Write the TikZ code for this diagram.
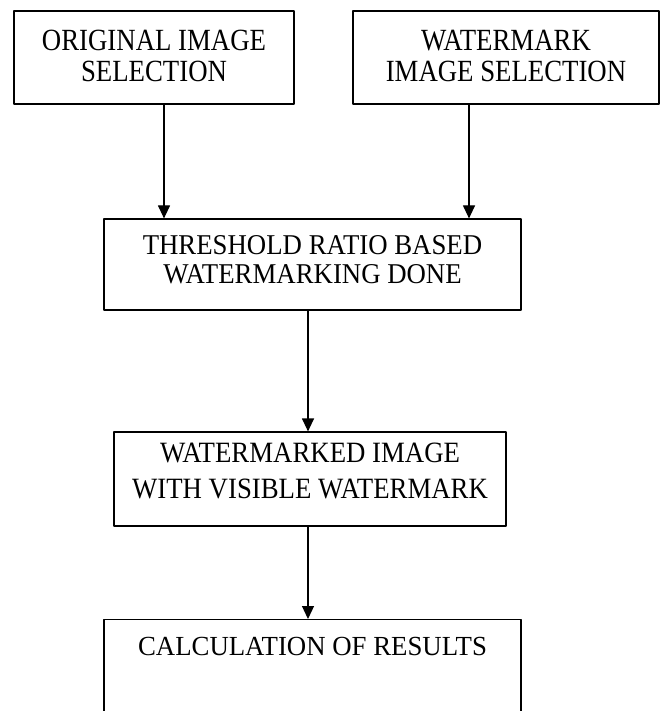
\documentclass[tikz,border=0pt]{standalone}
\usepackage{fontspec}
\setmainfont{Liberation Serif}
\usetikzlibrary{arrows.meta}
% box text: height, width, gap above first line, vertical stretch, line skip (before stretch), text
\newcommand\btext[6]{\parbox[c][#1][t]{#2}{\centering\vspace*{#3}%
  \scalebox{1}[#4]{\parbox{#2}{\centering\fontsize{26.8}{#5}\selectfont #6}}}}
\begin{document}
\begin{tikzpicture}[x=1pt,y=-1pt,line join=round,>={Triangle[length=13pt,width=12pt]},
box/.style={draw,line width=1.2pt,inner sep=0pt}]
\useasboundingbox (0,0) rectangle (663,711);
% inputs
\node[box] (orig) at (154,57.5) {\btext{93pt}{280pt}{19pt}{1.15}{27pt}{ORIGINAL IMAGE\\SELECTION}};
\node[box] (wmark) at (506,57.5) {\btext{93pt}{306pt}{19pt}{1.15}{27pt}{WATERMARK\\IMAGE SELECTION}};
% processing
\node[box] (thresh) at (312.5,264.5) {\btext{91pt}{417pt}{16.5pt}{1.07}{27.2pt}{THRESHOLD RATIO BASED\\WATERMARKING DONE}};
\node[box] (wmimg) at (310,479) {\btext{94pt}{392pt}{11pt}{1.1}{32.3pt}{WATERMARKED IMAGE\\WITH VISIBLE WATERMARK}};
\node[box,anchor=north] (calc) at (312.5,619) {\btext{150pt}{417pt}{17.5pt}{1.03}{30pt}{CALCULATION OF RESULTS}};
\coordinate (a1) at (164,0); \coordinate (a2) at (469,0); \coordinate (a3) at (308,0);
\draw[->,line width=1.2pt] (orig.south -| a1)--(thresh.north -| a1);
\draw[->,line width=1.2pt] (wmark.south -| a2)--(thresh.north -| a2);
\draw[->,line width=1.2pt] (thresh.south -| a3)--(wmimg.north -| a3);
\draw[->,line width=1.2pt] (wmimg.south -| a3)--(calc.north -| a3);
\end{tikzpicture}
\end{document}
